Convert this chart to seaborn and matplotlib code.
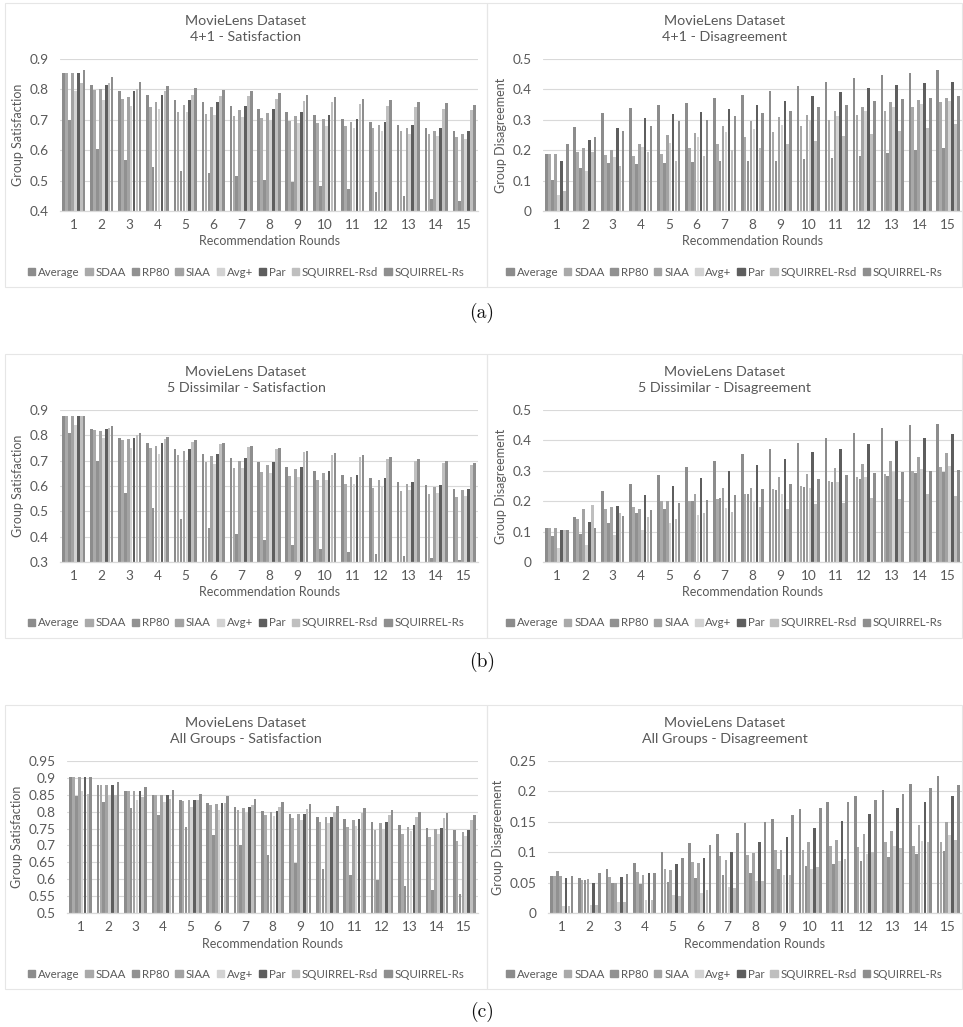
import matplotlib
matplotlib.use("Agg")
import matplotlib.pyplot as plt
from matplotlib.patches import Rectangle
import seaborn as sns
import pandas as pd
import numpy as np

# ---------------------------------------------------------------- data
rounds = [str(r) for r in range(1, 16)]
methods = ["Average", "SDAA", "RP80", "SIAA", "Avg+", "Par",
           "SQUIRREL-Rsd", "SQUIRREL-Rs"]
colors = ["#8c8c8c", "#a9a9a9", "#919191", "#a3a3a3", "#d3d3d3", "#5e5e5e",
          "#bfbfbf", "#8e8e8e"]

# rows: recommendation rounds 1..15, columns: methods (order as above)
sat_4p1 = [
    [0.855, 0.855, 0.700, 0.855, 0.795, 0.855, 0.820, 0.865],
    [0.815, 0.797, 0.605, 0.800, 0.765, 0.815, 0.820, 0.840],
    [0.795, 0.770, 0.567, 0.776, 0.745, 0.795, 0.800, 0.823],
    [0.780, 0.742, 0.545, 0.760, 0.735, 0.780, 0.795, 0.812],
    [0.766, 0.727, 0.530, 0.750, 0.725, 0.766, 0.782, 0.805],
    [0.757, 0.718, 0.525, 0.741, 0.716, 0.757, 0.778, 0.798],
    [0.747, 0.712, 0.515, 0.732, 0.710, 0.747, 0.777, 0.794],
    [0.737, 0.706, 0.503, 0.723, 0.700, 0.737, 0.770, 0.788],
    [0.726, 0.697, 0.496, 0.713, 0.690, 0.726, 0.763, 0.781],
    [0.715, 0.688, 0.483, 0.702, 0.680, 0.715, 0.758, 0.775],
    [0.704, 0.681, 0.472, 0.693, 0.672, 0.704, 0.752, 0.770],
    [0.694, 0.673, 0.461, 0.683, 0.664, 0.694, 0.747, 0.765],
    [0.683, 0.663, 0.450, 0.673, 0.654, 0.683, 0.741, 0.760],
    [0.673, 0.654, 0.440, 0.663, 0.646, 0.673, 0.736, 0.755],
    [0.663, 0.644, 0.433, 0.654, 0.636, 0.663, 0.731, 0.748],
]
dis_4p1 = [
    [0.188, 0.188, 0.103, 0.188, 0.053, 0.163, 0.067, 0.220],
    [0.277, 0.193, 0.140, 0.207, 0.132, 0.233, 0.193, 0.245],
    [0.322, 0.183, 0.158, 0.200, 0.177, 0.273, 0.147, 0.263],
    [0.340, 0.180, 0.155, 0.220, 0.210, 0.305, 0.193, 0.280],
    [0.350, 0.188, 0.158, 0.250, 0.225, 0.320, 0.163, 0.297],
    [0.355, 0.207, 0.160, 0.258, 0.243, 0.327, 0.180, 0.300],
    [0.372, 0.222, 0.165, 0.280, 0.260, 0.337, 0.200, 0.312],
    [0.382, 0.245, 0.165, 0.297, 0.270, 0.350, 0.208, 0.322],
    [0.395, 0.260, 0.165, 0.310, 0.283, 0.362, 0.220, 0.330],
    [0.410, 0.280, 0.170, 0.317, 0.300, 0.377, 0.230, 0.342],
    [0.425, 0.300, 0.173, 0.330, 0.312, 0.392, 0.248, 0.350],
    [0.438, 0.317, 0.180, 0.343, 0.328, 0.403, 0.253, 0.362],
    [0.448, 0.330, 0.192, 0.358, 0.342, 0.413, 0.263, 0.367],
    [0.455, 0.343, 0.200, 0.365, 0.352, 0.420, 0.272, 0.372],
    [0.465, 0.357, 0.208, 0.373, 0.362, 0.425, 0.285, 0.377],
]
sat_5dis = [
    [0.875, 0.875, 0.808, 0.875, 0.840, 0.875, 0.877, 0.878],
    [0.826, 0.820, 0.700, 0.818, 0.790, 0.826, 0.828, 0.836],
    [0.790, 0.782, 0.573, 0.784, 0.750, 0.790, 0.800, 0.808],
    [0.770, 0.750, 0.515, 0.758, 0.725, 0.770, 0.785, 0.793],
    [0.745, 0.722, 0.468, 0.738, 0.703, 0.745, 0.775, 0.780],
    [0.727, 0.693, 0.435, 0.718, 0.685, 0.727, 0.765, 0.768],
    [0.710, 0.672, 0.410, 0.700, 0.670, 0.710, 0.752, 0.758],
    [0.693, 0.656, 0.388, 0.683, 0.653, 0.693, 0.745, 0.750],
    [0.676, 0.638, 0.368, 0.666, 0.637, 0.676, 0.733, 0.740],
    [0.660, 0.622, 0.353, 0.650, 0.622, 0.660, 0.724, 0.732],
    [0.645, 0.607, 0.340, 0.636, 0.608, 0.645, 0.716, 0.724],
    [0.630, 0.592, 0.332, 0.622, 0.596, 0.630, 0.708, 0.716],
    [0.616, 0.580, 0.322, 0.608, 0.583, 0.616, 0.700, 0.707],
    [0.603, 0.567, 0.315, 0.595, 0.572, 0.603, 0.692, 0.700],
    [0.590, 0.556, 0.308, 0.583, 0.560, 0.590, 0.684, 0.691],
]
dis_5dis = [
    [0.113, 0.113, 0.087, 0.113, 0.045, 0.105, 0.105, 0.105],
    [0.148, 0.143, 0.093, 0.175, 0.057, 0.130, 0.187, 0.112],
    [0.233, 0.175, 0.128, 0.180, 0.088, 0.185, 0.160, 0.150],
    [0.255, 0.180, 0.162, 0.175, 0.105, 0.220, 0.148, 0.172],
    [0.285, 0.200, 0.175, 0.200, 0.127, 0.250, 0.143, 0.193],
    [0.313, 0.200, 0.200, 0.225, 0.155, 0.277, 0.160, 0.205],
    [0.333, 0.208, 0.210, 0.245, 0.178, 0.300, 0.165, 0.222],
    [0.355, 0.225, 0.225, 0.245, 0.200, 0.320, 0.180, 0.240],
    [0.373, 0.240, 0.237, 0.278, 0.225, 0.340, 0.175, 0.258],
    [0.390, 0.250, 0.248, 0.288, 0.245, 0.362, 0.190, 0.272],
    [0.408, 0.268, 0.262, 0.308, 0.263, 0.373, 0.195, 0.285],
    [0.425, 0.280, 0.273, 0.322, 0.280, 0.388, 0.210, 0.293],
    [0.440, 0.290, 0.283, 0.333, 0.295, 0.397, 0.208, 0.295],
    [0.450, 0.300, 0.292, 0.347, 0.305, 0.408, 0.225, 0.300],
    [0.455, 0.312, 0.297, 0.360, 0.315, 0.420, 0.217, 0.303],
]
sat_all = [
    [0.903, 0.903, 0.846, 0.903, 0.862, 0.903, 0.852, 0.903],
    [0.880, 0.880, 0.828, 0.878, 0.848, 0.880, 0.848, 0.887],
    [0.862, 0.862, 0.810, 0.862, 0.836, 0.862, 0.842, 0.873],
    [0.850, 0.850, 0.790, 0.850, 0.828, 0.850, 0.838, 0.863],
    [0.836, 0.832, 0.754, 0.834, 0.815, 0.836, 0.834, 0.853],
    [0.825, 0.820, 0.730, 0.824, 0.806, 0.825, 0.826, 0.845],
    [0.813, 0.806, 0.700, 0.812, 0.798, 0.813, 0.820, 0.837],
    [0.803, 0.790, 0.672, 0.800, 0.786, 0.803, 0.813, 0.830],
    [0.794, 0.780, 0.649, 0.793, 0.776, 0.794, 0.807, 0.822],
    [0.785, 0.768, 0.630, 0.783, 0.766, 0.785, 0.800, 0.817],
    [0.777, 0.756, 0.612, 0.774, 0.758, 0.777, 0.795, 0.811],
    [0.769, 0.745, 0.598, 0.766, 0.750, 0.769, 0.790, 0.806],
    [0.761, 0.735, 0.580, 0.756, 0.742, 0.761, 0.785, 0.800],
    [0.753, 0.724, 0.568, 0.749, 0.735, 0.753, 0.780, 0.795],
    [0.745, 0.713, 0.555, 0.741, 0.728, 0.745, 0.776, 0.790],
]
dis_all = [
    [0.061, 0.061, 0.069, 0.061, 0.012, 0.057, 0.011, 0.061],
    [0.058, 0.054, 0.054, 0.056, 0.013, 0.050, 0.013, 0.065],
    [0.073, 0.060, 0.050, 0.050, 0.018, 0.059, 0.018, 0.064],
    [0.082, 0.067, 0.048, 0.063, 0.022, 0.065, 0.021, 0.065],
    [0.101, 0.073, 0.051, 0.070, 0.029, 0.080, 0.028, 0.090],
    [0.115, 0.084, 0.058, 0.082, 0.033, 0.090, 0.038, 0.112],
    [0.130, 0.094, 0.063, 0.087, 0.042, 0.100, 0.041, 0.131],
    [0.148, 0.095, 0.065, 0.099, 0.052, 0.117, 0.052, 0.150],
    [0.155, 0.103, 0.072, 0.104, 0.063, 0.125, 0.063, 0.162],
    [0.171, 0.103, 0.078, 0.117, 0.073, 0.140, 0.075, 0.172],
    [0.182, 0.110, 0.080, 0.120, 0.085, 0.152, 0.088, 0.182],
    [0.193, 0.108, 0.085, 0.130, 0.097, 0.163, 0.100, 0.186],
    [0.203, 0.116, 0.092, 0.135, 0.110, 0.173, 0.107, 0.196],
    [0.212, 0.110, 0.097, 0.145, 0.118, 0.182, 0.117, 0.205],
    [0.225, 0.117, 0.102, 0.150, 0.128, 0.192, 0.120, 0.210],
]

# ---------------------------------------------------------------- style
sns.set_theme(style="white")
plt.rcParams["font.family"] = ["Lato", "DejaVu Sans"]
TXT = "#595959"
GRID = "#d9d9d9"

W, H = 963, 1027
fig = plt.figure(figsize=(W / 100, H / 100), dpi=100)
fig.patch.set_facecolor("white")
palette = dict(zip(methods, colors))


def px_rect(x0, y0, x1, y1):
    """Pixel box (top-left origin) -> figure fraction [l, b, w, h]."""
    return [x0 / W, 1 - y1 / H, (x1 - x0) / W, (y1 - y0) / H]


def fmt_plain(v):
    return ("%.2f" % v).rstrip("0").rstrip(".")


def panel(box, axbox, table, title, ylabel, ylim, step):
    bx0, by0, bx1, by1 = box
    fig.patches.append(Rectangle((bx0 / W, 1 - by1 / H), (bx1 - bx0) / W,
                                 (by1 - by0) / H, transform=fig.transFigure,
                                 fill=False, edgecolor="#e6e6e6", lw=0.8))
    ax = fig.add_axes(px_rect(*axbox))
    df = pd.DataFrame(table, columns=methods)
    df["Round"] = rounds
    long = df.melt(id_vars="Round", var_name="Method", value_name="Value")
    sns.barplot(data=long, x="Round", y="Value", hue="Method",
                order=rounds, hue_order=methods, palette=palette,
                width=0.84, gap=0.1, linewidth=0, saturation=1,
                legend=False, ax=ax)
    ax.set_xlim(-0.5, len(rounds) - 0.5)
    ax.set_ylim(*ylim)
    ticks = np.round(np.arange(ylim[0], ylim[1] + step / 2, step), 4)
    ax.set_yticks(ticks)
    ax.set_yticklabels([fmt_plain(t) for t in ticks])
    ax.yaxis.grid(True, color=GRID, lw=0.8)
    ax.set_axisbelow(True)
    for s in ["top", "right", "left"]:
        ax.spines[s].set_visible(False)
    ax.spines["bottom"].set_color(GRID)
    ax.spines["bottom"].set_linewidth(0.9)
    ax.tick_params(axis="y", length=0, colors=TXT, labelsize=9.8, pad=8)
    ax.tick_params(axis="x", length=0, colors=TXT, labelsize=9.8, pad=6)
    ax.set_xlabel("Recommendation Rounds", color=TXT, fontsize=9,
                  labelpad=3)
    ax.set_ylabel(ylabel, color=TXT, fontsize=9, labelpad=4)
    cx = (bx0 + bx1) / 2 / W
    fig.text(cx, 1 - (by0 + 26) / H, title, ha="center", va="center",
             color=TXT, fontsize=10.3, linespacing=1.4)
    handles = [Rectangle((0, 0), 1, 1, color=c) for c in colors]
    fig.legend(handles, methods, loc="center",
               bbox_to_anchor=(cx, 1 - (by1 - 15) / H), ncol=8,
               frameon=False, fontsize=8.3, labelcolor=TXT,
               handlelength=0.65, handleheight=0.65, handletextpad=0.25,
               columnspacing=0.5, borderaxespad=0, borderpad=0)
    return ax


panels = [
    ((5, 3, 487, 287), (60, 59, 478, 211), sat_4p1,
     "MovieLens Dataset\n4+1 - Satisfaction", "Group Satisfaction",
     (0.4, 0.9), 0.1),
    ((487, 3, 962, 287), (543, 59, 962, 211), dis_4p1,
     "MovieLens Dataset\n4+1 - Disagreement", "Group Disagreement",
     (0.0, 0.5), 0.1),
    ((5, 354, 487, 638), (60, 410, 478, 562), sat_5dis,
     "MovieLens Dataset\n5 Dissimilar - Satisfaction", "Group Satisfaction",
     (0.3, 0.9), 0.1),
    ((487, 354, 962, 638), (543, 410, 962, 562), dis_5dis,
     "MovieLens Dataset\n5 Dissimilar - Disagreement", "Group Disagreement",
     (0.0, 0.5), 0.1),
    ((5, 705, 487, 989), (67, 761, 478, 913), sat_all,
     "MovieLens Dataset\nAll Groups - Satisfaction", "Group Satisfaction",
     (0.5, 0.95), 0.05),
    ((487, 705, 962, 989), (548, 761, 962, 913), dis_all,
     "MovieLens Dataset\nAll Groups - Disagreement", "Group Disagreement",
     (0.0, 0.25), 0.05),
]

for box, axbox, table, title, ylabel, ylim, step in panels:
    panel(box, axbox, table, title, ylabel, ylim, step)

# sub-figure captions
for label, y in [("(a)", 313), ("(b)", 662), ("(c)", 1012)]:
    fig.text(482 / W, 1 - y / H, label, ha="center", va="center",
             fontsize=14, family="cmr10", color="#111111")

fig.savefig("out.png", dpi=100, facecolor="white")
